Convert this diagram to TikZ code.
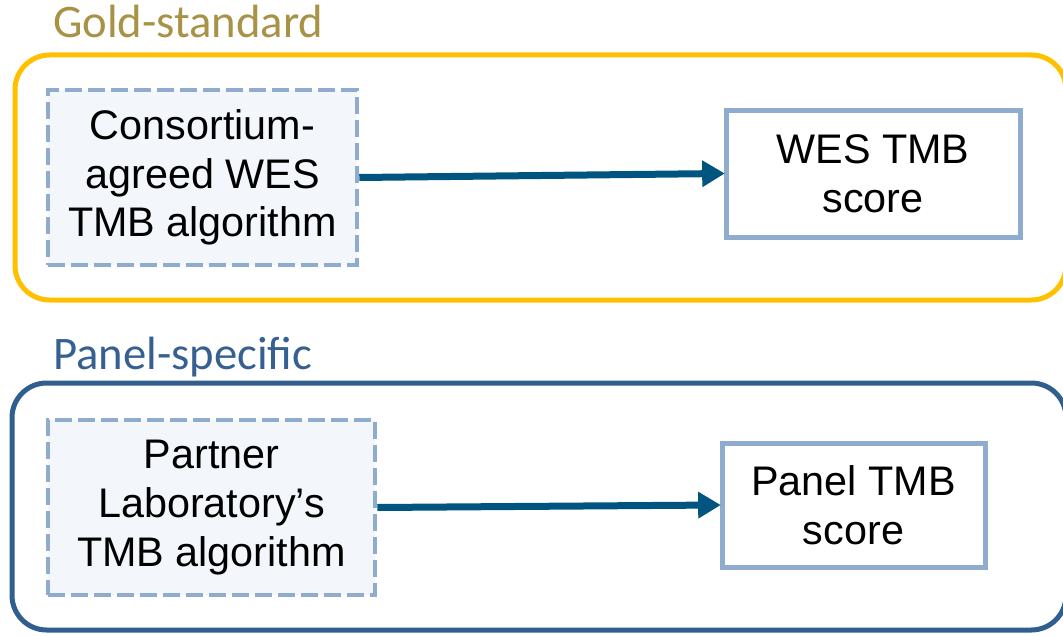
\documentclass[tikz,border=0pt]{standalone}
\usepackage{fontspec}
\setmainfont{Liberation Sans}
\newfontfamily\titlefont{Carlito}
\usetikzlibrary{arrows.meta}
\definecolor{goldline}{RGB}{255,192,0}
\definecolor{goldtext}{RGB}{168,146,70}
\definecolor{navyline}{RGB}{47,94,143}
\definecolor{navytext}{RGB}{55,96,146}
\definecolor{boxline}{RGB}{143,172,206}
\definecolor{boxfill}{RGB}{243,246,250}
\definecolor{arrowblue}{RGB}{0,85,128}
\begin{document}
\begin{tikzpicture}[x=0.75pt,y=-0.75pt,
  frame/.style={draw, line width=3.75pt, rounded corners=26pt, inner sep=0pt},
  algobox/.style={draw=boxline, fill=boxfill, line width=3.4pt,
    dash pattern=on 12.75pt off 4.5pt, inner sep=0pt, align=center,
    font=\fontsize{31}{36.5}\selectfont},
  scorebox/.style={draw=boxline, fill=white, line width=3.75pt, inner sep=0pt,
    align=center, font=\fontsize{31}{36.5}\selectfont},
  flow/.style={draw=arrowblue, line width=5.25pt,
    -{Triangle[length=17pt,width=19pt]}, shorten >=-1pt},
  heading/.style={anchor=base west, inner sep=0pt,
    font=\titlefont\fontsize{35}{42}\selectfont}]
\useasboundingbox (0,0) rectangle (1063,635);

% group frames
\node[frame, draw=goldline, minimum width=1051*0.75pt, minimum height=245*0.75pt]
  (gold) at (540.5,177.5) {};
\node[frame, draw=navyline, minimum width=1054*0.75pt, minimum height=247*0.75pt]
  (panel) at (539,506.5) {};

% group headings
\node[heading, text=goldtext] (goldhead) at (53,38) {Gold-standard};
\node[heading, text=navytext] (panelhead) at (53,369) {Panel-specific};

% gold-standard row
\node[algobox, minimum width=309*0.75pt, minimum height=175*0.75pt]
  (wesalgo) at (202.5,177.5) {Consortium-\\agreed WES\\TMB algorithm};
\node[scorebox, minimum width=294*0.75pt, minimum height=127*0.75pt]
  (wesscore) at (873,173.5) {WES TMB\\score};
\draw[flow] (wesalgo.east) -- (wesscore.west);

% panel-specific row
\node[algobox, minimum width=327*0.75pt, minimum height=175*0.75pt]
  (panelalgo) at (211.5,507.5) {Partner\\Laboratory’s\\TMB algorithm};
\node[scorebox, minimum width=263*0.75pt, minimum height=124*0.75pt]
  (panelscore) at (853.5,505) {Panel TMB\\score};
\draw[flow] (panelalgo.east) -- (panelscore.west);
\end{tikzpicture}
\end{document}
